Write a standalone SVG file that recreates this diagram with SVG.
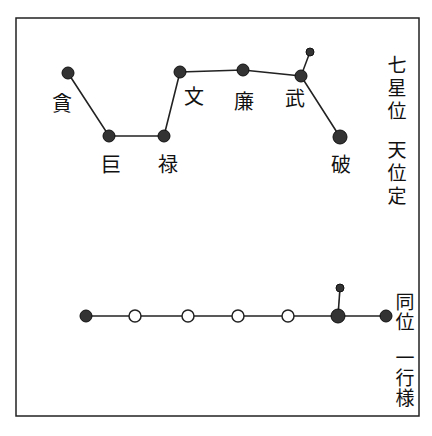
<svg xmlns="http://www.w3.org/2000/svg" width="432" height="436" viewBox="0 0 432 436">
<style>
.frame{fill:none;stroke:#222;stroke-width:1.5}
.ln{stroke:#222;stroke-width:1.6;fill:none}
.dot{fill:#333;stroke:#111;stroke-width:1}
.hol{fill:#fff;stroke:#222;stroke-width:1.5}
text{font-family:"Noto Sans CJK JP","Noto Sans CJK SC",sans-serif;fill:#111;text-anchor:middle}
.lb{font-size:20px;dominant-baseline:central}
.vt{font-size:19px;writing-mode:vertical-rl;text-orientation:upright;letter-spacing:4px}
.vb{font-size:19px;writing-mode:vertical-rl;text-orientation:upright;letter-spacing:1px}
</style>
<rect width="432" height="436" fill="#fff"/>
<rect class="frame" x="16" y="18" width="403" height="398"/>
<g id="connectors">
<polyline class="ln" points="68,73 109,136 164,136 180,72 243,70 301,76 340,137"/>
<line class="ln" x1="301" y1="76" x2="310" y2="52"/>
<line class="ln" x1="86" y1="316" x2="386" y2="316"/>
<line class="ln" x1="338" y1="316" x2="340" y2="288"/>
</g>
<g id="n-tan"><circle class="dot" cx="68" cy="73" r="6"/><text class="lb" x="62" y="102">貪</text></g>
<g id="n-kyo"><circle class="dot" cx="109" cy="136" r="6"/><text class="lb" x="111" y="163">巨</text></g>
<g id="n-roku"><circle class="dot" cx="164" cy="136" r="6"/><text class="lb" x="168" y="163">禄</text></g>
<g id="n-bun"><circle class="dot" cx="180" cy="72" r="6"/><text class="lb" x="194" y="95">文</text></g>
<g id="n-ren"><circle class="dot" cx="243" cy="70" r="6"/><text class="lb" x="244" y="100">廉</text></g>
<g id="n-bu"><circle class="dot" cx="301" cy="76" r="6"/><circle class="dot" cx="310" cy="52" r="4"/><text class="lb" x="295" y="97">武</text></g>
<g id="n-ha"><circle class="dot" cx="340" cy="137" r="7"/><text class="lb" x="341" y="163">破</text></g>
<g id="t-top">
<text class="vt" x="397" y="90">七星位</text>
<text class="vt" x="397" y="175">天位定</text>
</g>
<g id="row">
<circle class="dot" cx="86" cy="316" r="6"/>
<circle class="hol" cx="135" cy="316" r="6"/>
<circle class="hol" cx="188" cy="316" r="6"/>
<circle class="hol" cx="238" cy="316" r="6"/>
<circle class="hol" cx="288" cy="316" r="6"/>
<circle class="dot" cx="338" cy="316" r="7"/>
<circle class="dot" cx="340" cy="288" r="4"/>
<circle class="dot" cx="386" cy="316" r="6"/>
</g>
<g id="t-bottom">
<text class="vb" x="405" y="312">同位</text>
<text class="vb" x="405" y="378">一行様</text>
</g>
</svg>
